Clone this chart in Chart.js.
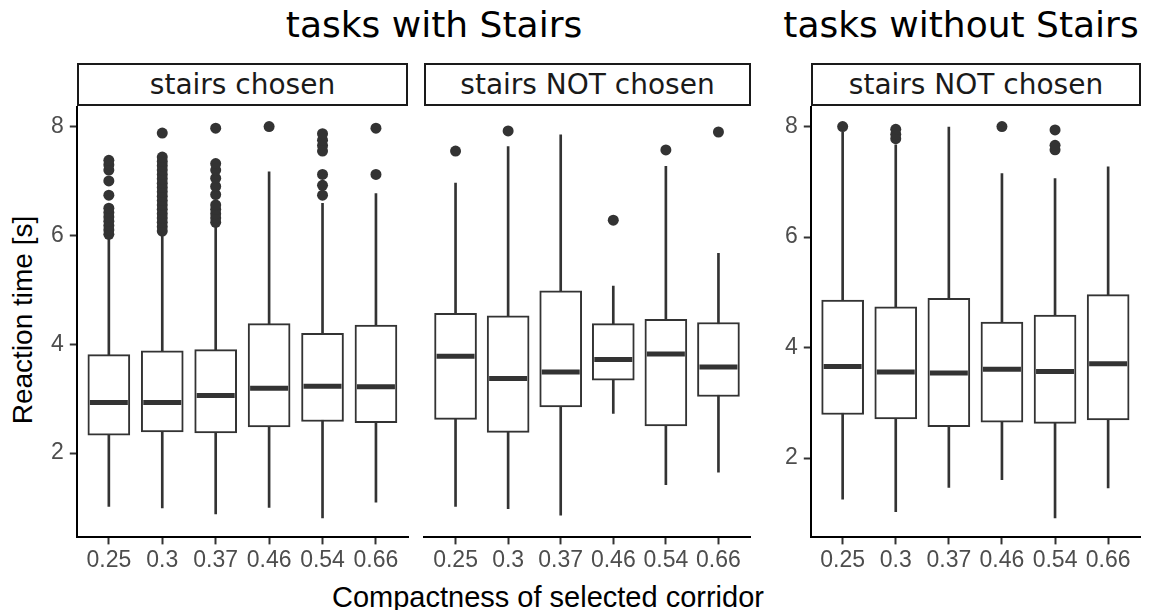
<!DOCTYPE html>
<html>
<head>
<meta charset="utf-8">
<script src="https://cdn.jsdelivr.net/npm/chart.js@4.4.1/dist/chart.umd.min.js"></script>
<style>
  html, body { margin: 0; padding: 0; background: #fff; }
  body { width: 1156px; height: 610px; position: relative; overflow: hidden; }
  .title { position: absolute; top: 7px; font-family: 'DejaVu Sans', sans-serif; font-size: 36px; line-height: 36px; color: #000; white-space: nowrap; transform: translateX(-50%); }
  .strip { position: absolute; top: 63px; height: 43px; box-sizing: border-box; border: 2px solid #1a1a1a; display: flex; align-items: center; justify-content: center; font-family: 'DejaVu Sans', sans-serif; font-size: 28px; color: #1a1a1a; white-space: nowrap; }
  .panel { position: absolute; }
  .xtitle { position: absolute; left: 332px; top: 583px; font-family: 'Liberation Sans', Arial, sans-serif; font-size: 29px; line-height: 29px; color: #000; white-space: nowrap; }
  .ytitle { position: absolute; left: -127px; top: 306px; width: 300px; text-align: center; font-family: 'Liberation Sans', Arial, sans-serif; font-size: 28px; line-height: 28px; color: #000; white-space: nowrap; transform: rotate(-90deg); transform-origin: 150px 14px; }
</style>
</head>
<body>
<div class="title" style="left:434px">tasks with Stairs</div>
<div class="title" style="left:961px">tasks without Stairs</div>
<div class="strip" style="left:77px;width:331px">stairs chosen</div>
<div class="strip" style="left:424px;width:327px">stairs NOT chosen</div>
<div class="strip" style="left:811px;width:330px">stairs NOT chosen</div>
<div class="panel" id="d1" style="left:0px;top:90px;width:420px;height:500px"><canvas id="c1"></canvas></div>
<div class="panel" id="d2" style="left:414px;top:90px;width:350px;height:500px"><canvas id="c2"></canvas></div>
<div class="panel" id="d3" style="left:760px;top:90px;width:396px;height:500px"><canvas id="c3"></canvas></div>
<div class="ytitle">Reaction time [s]</div>
<div class="xtitle">Compactness of selected corridor</div>

<script>
// ---------- data ----------
const categories = ['0.25', '0.3', '0.37', '0.46', '0.54', '0.66'];
const yTicks = [2, 4, 6, 8];

// Panel 1: tasks with Stairs - stairs chosen
const p1Low  = [1.02, 0.99, 0.88, 1.00, 0.81, 1.10];
const p1Q1   = [2.33, 2.39, 2.37, 2.48, 2.58, 2.56];
const p1Med  = [2.93, 2.93, 3.06, 3.19, 3.23, 3.22];
const p1Q3   = [3.81, 3.88, 3.90, 4.38, 4.20, 4.35];
const p1High = [5.98, 6.04, 6.16, 7.17, 6.59, 6.77];
const p1Out  = [
  [6.02, 6.10, 6.18, 6.26, 6.34, 6.42, 6.50, 6.74, 7.00, 7.20, 7.30, 7.38],
  [6.08, 6.16, 6.24, 6.32, 6.40, 6.48, 6.56, 6.64, 6.72, 6.80, 6.88, 6.96, 7.04, 7.12, 7.20, 7.28, 7.36, 7.44, 7.88],
  [6.24, 6.32, 6.40, 6.48, 6.56, 6.75, 6.90, 7.05, 7.20, 7.32, 7.97],
  [8.00],
  [6.74, 6.92, 7.12, 7.55, 7.65, 7.75, 7.87],
  [7.12, 7.97]
];

// Panel 2: tasks with Stairs - stairs NOT chosen
const p2Low  = [1.02, 0.98, 0.86, 2.73, 1.42, 1.65];
const p2Q1   = [2.62, 2.38, 2.85, 3.34, 2.50, 3.04];
const p2Med  = [3.78, 3.37, 3.49, 3.72, 3.82, 3.58];
const p2Q3   = [4.57, 4.52, 4.98, 4.38, 4.46, 4.40];
const p2High = [6.96, 7.63, 7.85, 5.07, 7.27, 5.67];
const p2Out  = [[7.55], [7.92], [], [6.28], [7.57], [7.90]];

// Panel 3: tasks without Stairs - stairs NOT chosen
const p3Low  = [1.26, 1.03, 1.47, 1.61, 0.92, 1.46];
const p3Q1   = [2.79, 2.71, 2.57, 2.65, 2.63, 2.69];
const p3Med  = [3.66, 3.56, 3.54, 3.61, 3.57, 3.71];
const p3Q3   = [4.86, 4.74, 4.89, 4.46, 4.59, 4.96];
const p3High = [7.90, 7.67, 7.99, 7.15, 7.06, 7.27];
const p3Out  = [[8.00], [7.78, 7.86, 7.95], [], [8.00], [7.58, 7.66, 7.94], []];

// ---------- helpers ----------
function yRange(groups) {
  let lo = Infinity, hi = -Infinity;
  groups.forEach(g => {
    g.low.forEach(v => { lo = Math.min(lo, v); });
    g.high.forEach(v => { hi = Math.max(hi, v); });
    g.out.forEach(a => a.forEach(v => { lo = Math.min(lo, v); hi = Math.max(hi, v); }));
  });
  const pad = (hi - lo) * 0.05;
  return [lo - pad, hi + pad];
}

const G1 = {low: p1Low, q1: p1Q1, med: p1Med, q3: p1Q3, high: p1High, out: p1Out};
const G2 = {low: p2Low, q1: p2Q1, med: p2Med, q3: p2Q3, high: p2High, out: p2Out};
const G3 = {low: p3Low, q1: p3Q1, med: p3Med, q3: p3Q3, high: p3High, out: p3Out};

const INK = '#333333';
const tickFont = {family: "'Liberation Sans', Arial, sans-serif", size: 23};

function makePanel(id, g, range, showY) {
  const idx = categories.map((c, i) => i + 1);
  const datasets = [
    { type: 'bar', label: 'whisker', order: 4, grouped: false, barThickness: 2,
      backgroundColor: INK, borderWidth: 0,
      data: idx.map((x, i) => ({x: x, y: [g.low[i], g.high[i]]})) },
    { type: 'bar', label: 'box', order: 3, grouped: false, barThickness: 42,
      backgroundColor: '#ffffff', borderColor: INK, borderWidth: 2, borderSkipped: false,
      data: idx.map((x, i) => ({x: x, y: [g.q1[i], g.q3[i]]})) },
    { type: 'scatter', label: 'median', order: 2, pointStyle: 'line', pointRadius: 19,
      pointBorderWidth: 5, pointBorderColor: INK, borderColor: INK,
      data: idx.map((x, i) => ({x: x, y: g.med[i]})) },
    { type: 'scatter', label: 'outlier', order: 1, pointRadius: 5.5, pointBorderWidth: 0,
      pointBackgroundColor: INK, backgroundColor: INK,
      data: [].concat(...g.out.map((arr, i) => arr.map(v => ({x: i + 1, y: v})))) }
  ];
  const axisGrid = {display: true, offset: false, drawOnChartArea: false, drawTicks: true, tickLength: 7, tickColor: INK, tickWidth: 2};
  const axisBorder = {display: true, color: '#000000', width: 2};
  return new Chart(document.getElementById(id), {
    type: 'bar',
    data: {datasets},
    options: {
      responsive: true,
      maintainAspectRatio: false,
      animation: false,
      events: [],
      layout: {padding: 0},
      plugins: {legend: {display: false}, tooltip: {enabled: false}, title: {display: false}},
      scales: {
        x: {
          type: 'linear', min: 0.4, max: 6.6, offset: false,
          afterBuildTicks: s => { s.ticks = idx.map(v => ({value: v})); },
          ticks: {callback: v => categories[v - 1], font: tickFont, color: '#4d4d4d', padding: 2, maxRotation: 0, autoSkip: false},
          grid: axisGrid, border: axisBorder
        },
        y: {
          type: 'linear', min: range[0], max: range[1], display: showY,
          afterBuildTicks: s => { s.ticks = yTicks.map(v => ({value: v})); },
          ticks: {font: tickFont, color: '#4d4d4d', padding: 6},
          grid: axisGrid, border: axisBorder
        }
      }
    }
  });
}

// place the container so that the plotting area lands on the wanted page rectangle
function fitToArea(chart, div, target) {
  for (let k = 0; k < 6; k++) {
    const ca = chart.chartArea;
    const L = parseFloat(div.style.left), T = parseFloat(div.style.top);
    const W = parseFloat(div.style.width), H = parseFloat(div.style.height);
    const dl = target.left - (L + ca.left), dt = target.top - (T + ca.top);
    const dr = target.right - (L + ca.right), db = target.bottom - (T + ca.bottom);
    if (Math.abs(dl) + Math.abs(dt) + Math.abs(dr) + Math.abs(db) < 1) break;
    div.style.left = Math.round(L + dl) + 'px';
    div.style.top = Math.round(T + dt) + 'px';
    div.style.width = Math.round(W + dr - dl) + 'px';
    div.style.height = Math.round(H + db - dt) + 'px';
    chart.resize();
  }
}

const r12 = yRange([G1, G2]);
const r3 = yRange([G3]);
const ch1 = makePanel('c1', G1, r12, true);
const ch2 = makePanel('c2', G2, r12, false);
const ch3 = makePanel('c3', G3, r3, true);
fitToArea(ch1, document.getElementById('d1'), {left: 77, top: 107, right: 408, bottom: 537});
fitToArea(ch2, document.getElementById('d2'), {left: 424, top: 107, right: 750, bottom: 537});
fitToArea(ch3, document.getElementById('d3'), {left: 811, top: 107, right: 1140, bottom: 537});
</script>
</body>
</html>
